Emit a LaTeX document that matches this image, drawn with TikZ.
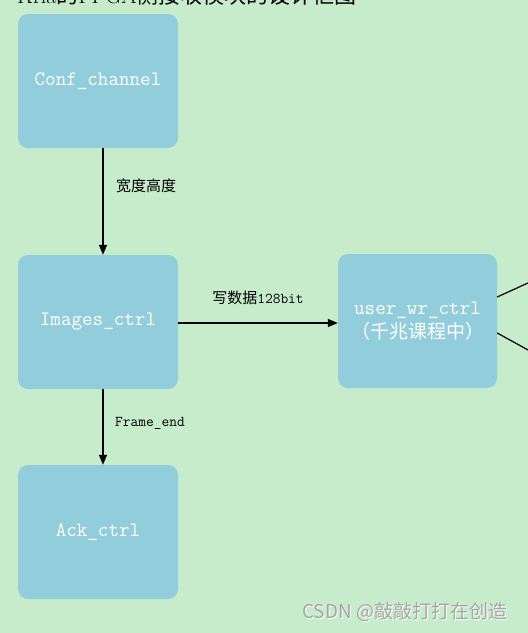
\documentclass[tikz,border=0pt]{standalone}
\usepackage{fontspec}
\newfontfamily\cjk{Noto Sans CJK SC}
\usetikzlibrary{arrows.meta}
\definecolor{bg}{RGB}{198,236,203}
\definecolor{boxc}{RGB}{146,205,220}
\definecolor{wm}{RGB}{165,165,165}
\begin{document}
\begin{tikzpicture}[x=1pt,y=-1pt,
  blk/.style={fill=boxc, rounded corners=10pt, draw=none, minimum width=160pt, minimum height=134pt,
    text=white, font=\ttfamily\fontsize{20.5}{25}\selectfont, align=center, inner sep=0pt},
  lbl/.style={font=\ttfamily\fontsize{15}{18}\selectfont, text=black, inner sep=0pt},
  arr/.style={-{Triangle[length=10pt,width=8pt]}, line width=1.2pt, black},
  ln/.style={line width=1.2pt, black}]
\clip (0,0) rectangle (528,633);
\fill[bg] (0,0) rectangle (528,633);
% cropped title
\node[anchor=base west, inner sep=0pt, font=\fontsize{22}{26}\selectfont] (title) at (17,3) {Kria{\cjk 的}FPGA{\cjk 侧接收模块的设计框图}};
% boxes
\node[blk] (conf) at (98,81) {Conf\_channel};
\node[blk] (img) at (98,322) {Images\_ctrl};
\node[blk] (ack) at (98,532) {Ack\_ctrl};
\node[blk, minimum width=159pt] (usr) at (417.5,321) {user\_wr\_ctrl\\[-1pt]{\cjk\fontsize{19}{24}\selectfont （千兆课程中）}};
% connectors
\draw[arr] (conf.south -| 103,0) -- (img.north -| 103,0);
\draw[arr] (img.south -| 103,0) -- (ack.north -| 103,0);
\draw[arr] (img.east |- 0,323) -- (usr.west |- 0,323);
\coordinate (r1) at (529,282.5);
\coordinate (r2) at (529,350.5);
\draw[ln] (usr.east |- 0,297) -- (r1);
\draw[ln] (usr.east |- 0,333) -- (r2);
% labels
\node[lbl, anchor=west] (l1) at (116,186) {{\cjk 宽度高度}};
\node[lbl] (l2) at (258,298) {{\cjk 写数据}128bit};
\node[lbl, anchor=west] (l3) at (115,423) {Frame\_end};
% watermark
\node[anchor=west, inner sep=0pt, text=white, font=\cjk\fontsize{19}{23}\selectfont] (wms) at (303,613) {CSDN @敲敲打打在创造};
\node[anchor=west, inner sep=0pt, text=wm, font=\cjk\fontsize{19}{23}\selectfont] (wm) at (302,612) {CSDN @敲敲打打在创造};
\end{tikzpicture}
\end{document}
